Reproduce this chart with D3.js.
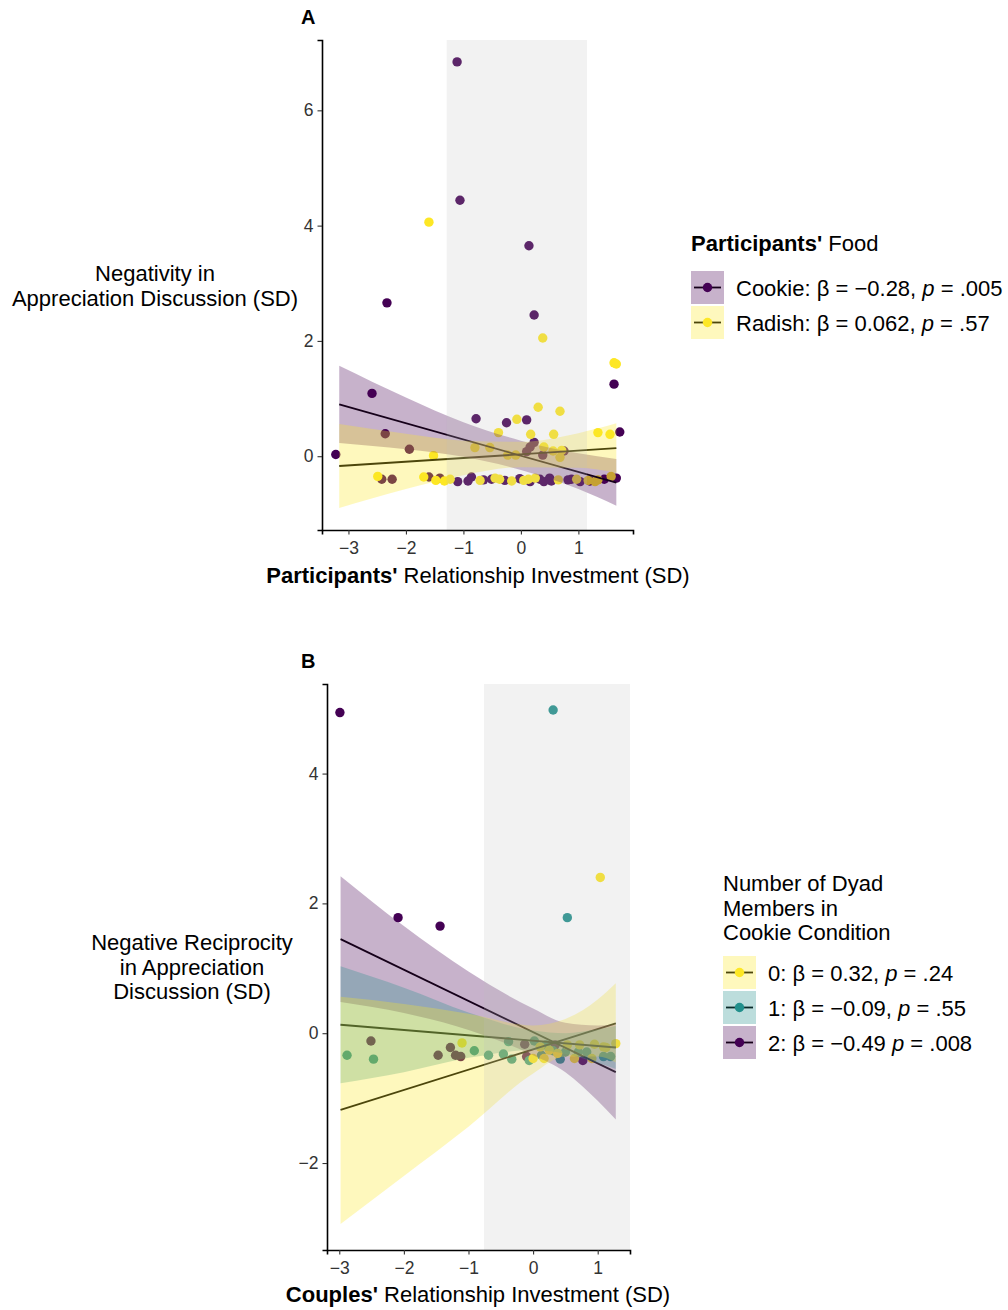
<!DOCTYPE html>
<html>
<head>
<meta charset="utf-8">
<script src="https://cdn.jsdelivr.net/npm/d3@7"></script>
<style>
  body { margin: 0; background: #fff; }
  text { font-family: "Liberation Sans", Arial, Helvetica, sans-serif; }
</style>
</head>
<body>
<svg id="chart" width="1008" height="1310"></svg>
<script>
// ---------- panel A data: participants' food ----------
const foodNames = ["Cookie", "Radish"];
const foodBeta = ["−0.28", "0.062"];
const foodP = [".005", ".57"];

const cookieX = [-1.11, -1.06, 0.14, -2.33, 0.23, 1.62, -2.59, -3.22, 1.72, -0.78, -0.25, 0.10,
  -2.36, -1.94, -2.42, -2.24, -1.60, -1.41, -0.86, -1.10, -0.92, 0.10, 0.16, 0.23, 0.38, 0.75,
  -0.65, -0.51, -0.28, -0.02, 0.16, 0.33, 0.40, 0.50, 0.53, 0.82, 0.88, 1.03, 1.20, 1.45, 1.66];
const cookieY = [6.84, 4.44, 3.65, 2.66, 2.45, 1.25, 1.09, 0.03, 0.42, 0.65, 0.58, 0.63,
  0.39, 0.12, -0.40, -0.40, -0.36, -0.38, -0.36, -0.44, -0.43, 0.08, 0.16, 0.24, 0.02, 0.09,
  -0.41, -0.40, -0.42, -0.39, -0.44, -0.40, -0.44, -0.38, -0.43, -0.41, -0.40, -0.44, -0.43, -0.40, -0.38];
const radishX = [-1.60, 0.38, 1.62, 1.66, 0.30, 0.68, -0.07, 1.34, 1.55, -0.39, 0.17, 0.57,
  -1.52, -0.80, -0.54, -0.23, -0.09, 0.40, 0.56, 0.68, 0.71, 1.57, -2.49, -1.69, -1.48, -1.33, -1.23,
  -0.71, -0.45, -0.37, -0.16, 0.05, 0.13, 0.25, 0.65, 0.97, 1.17, 1.29, 1.34];
const radishY = [4.06, 2.05, 1.62, 1.60, 0.85, 0.78, 0.64, 0.41, 0.38, 0.41, 0.38, 0.38,
  0.01, 0.15, 0.15, 0.02, 0.02, 0.16, 0.09, -0.02, 0.10, -0.35, -0.35, -0.36, -0.42, -0.43, -0.40,
  -0.42, -0.38, -0.40, -0.43, -0.42, -0.40, -0.38, -0.41, -0.40, -0.42, -0.44, -0.41];

// fitted lines (ends) and confidence bands
const fitAX = [-3.16, 1.66];
const cookieFit = [0.90, -0.46];
const radishFit = [-0.17, 0.14];
const bandAX = [-3.16, -2, -1, 0, 1, 1.66];
const cookieLo = [0.23, 0.12, -0.01, -0.24, -0.57, -0.86];
const cookieHi = [1.57, 1.02, 0.59, 0.27, 0.05, -0.05];
const radishLo = [-0.90, -0.57, -0.33, -0.19, -0.20, -0.29];
const radishHi = [0.56, 0.39, 0.27, 0.25, 0.40, 0.57];
const shadeA = [-1.29, 1.15];
const xTicksA = [-3, -2, -1, 0, 1];
const yTicksA = [0, 2, 4, 6];

// ---------- panel B data: dyad members in cookie condition ----------
const dyadNames = ["0", "1", "2"];
const dyadBeta = ["0.32,", "−0.09,", "−0.49"];
const dyadP = [".24", ".55", ".008"];

const zeroX = [1.04, -1.10, 0.00, 0.11, 0.17, 0.25, 0.38, 0.53, 0.64, 0.72, 0.91, 0.95, 1.09, 1.13, 1.28];
const zeroY = [2.40, -0.15, -0.39, -0.21, -0.39, -0.26, -0.31, -0.18, -0.39, -0.18, -0.39, -0.17, -0.21, -0.22, -0.16];
const oneX = [0.31, 0.53, -2.88, -2.47, -0.91, -0.69, -0.46, -0.38, -0.33, -0.06, 0.02, 0.13, 0.20, 0.31, 0.42, 0.50, 0.70, 0.83, 1.09, 1.20];
const oneY = [4.98, 1.78, -0.34, -0.40, -0.27, -0.34, -0.32, -0.13, -0.40, -0.42, -0.12, -0.34, -0.18, -0.27, -0.40, -0.29, -0.29, -0.29, -0.36, -0.36];
const twoX = [-2.99, -2.09, -1.44, -2.51, -1.47, -1.28, -1.20, -1.12, -0.13, -0.10, 0.34, 0.77];
const twoY = [4.94, 1.78, 1.65, -0.12, -0.34, -0.22, -0.34, -0.36, -0.17, -0.36, -0.18, -0.42];

const fitBX = [-2.98, 1.28];
const zeroFit = [-1.18, 0.15];
const oneFit = [0.13, -0.22];
const twoFit = [1.45, -0.60];
const bandBX = [-2.98, -2, -1, 0, 0.5, 1, 1.28];
const zeroLo = [-2.94, -2.20, -1.44, -0.62, -0.36, -0.36, -0.45];
const zeroHi = [0.56, 0.45, 0.30, 0.12, 0.22, 0.52, 0.77];
const oneLo = [-0.77, -0.60, -0.38, -0.26, -0.32, -0.46, -0.55];
const oneHi = [1.03, 0.70, 0.32, 0.04, 0.00, 0.06, 0.11];
const twoLo = [0.48, 0.31, 0.05, -0.34, -0.60, -1.04, -1.33];
const twoHi = [2.42, 1.65, 0.95, 0.38, 0.16, 0.12, 0.13];
const shadeB = [-0.76, 1.5];
const xTicksB = [-3, -2, -1, 0, 1];
const yTicksB = [-2, 0, 2, 4];

const PURPLE = "#440154", TEAL = "#21908C", YELLOW = "#FDE725";
const TITLE_SIZE = "22px", TICK_SIZE = "17.5px";

const svg = d3.select("#chart");

function drawPanel(p) {
  const x = d3.scaleLinear().domain(p.xDomain).range([p.left, p.right]);
  const y = d3.scaleLinear().domain(p.yDomain).range([p.bottom, p.top]);
  const g = svg.append("g");

  // points first, the bands are laid over them
  p.groups.forEach(gr => {
    g.append("g").selectAll("circle")
      .data(d3.range(gr.xs.length))
      .join("circle")
      .attr("cx", i => x(gr.xs[i]))
      .attr("cy", i => y(gr.ys[i]))
      .attr("r", 4.7)
      .style("fill", gr.color);
  });

  // fitted lines
  p.groups.forEach(gr => {
    g.append("path")
      .attr("d", d3.line()(gr.fitX.map((v, i) => [x(v), y(gr.fit[i])])))
      .style("fill", "none")
      .style("stroke", "#000")
      .style("stroke-width", 1.8);
  });

  // confidence bands
  const area = d3.area()
    .x(d => x(d[0])).y0(d => y(d[1])).y1(d => y(d[2]))
    .curve(d3.curveMonotoneX);
  p.groups.forEach(gr => {
    g.append("path")
      .attr("d", area(gr.bandX.map((v, i) => [v, gr.lo[i], gr.hi[i]])))
      .style("fill", gr.color)
      .style("opacity", 0.3);
  });

  // grey shaded region on top
  g.append("rect")
    .attr("x", x(p.shade[0]))
    .attr("y", p.top)
    .attr("width", x(p.shade[1]) - x(p.shade[0]))
    .attr("height", p.bottom - p.top)
    .style("fill", "#BEBEBE")
    .style("opacity", 0.2);

  // axes
  const fmt = d3.format("d");
  const ax = g.append("g").attr("transform", "translate(0," + p.bottom + ")")
    .call(d3.axisBottom(x).tickValues(p.xTicks).tickFormat(fmt).tickSizeOuter(0).tickSize(4.5).tickPadding(7));
  const ay = g.append("g").attr("transform", "translate(" + p.left + ",0)")
    .call(d3.axisLeft(y).tickValues(p.yTicks).tickFormat(fmt).tickSizeOuter(0).tickSize(4.5).tickPadding(4));
  [ax, ay].forEach(a => {
    a.select(".domain").style("stroke", "#000").style("stroke-width", 1.6);
    a.selectAll(".tick line").style("stroke", "#333").style("stroke-width", 1.1);
    a.selectAll(".tick text").style("font-size", TICK_SIZE).style("fill", "#333")
      .style("font-family", "'Liberation Sans', Arial, sans-serif");
  });

  // panel letter
  g.append("text").attr("x", p.letterX).attr("y", p.top - 16)
    .style("font-size", "20px").style("font-weight", "bold").text(p.letter);

  // x title with bold lead word
  const xt = g.append("text").attr("x", p.xTitleX).attr("y", p.xTitleY)
    .attr("text-anchor", "middle").style("font-size", TITLE_SIZE);
  xt.append("tspan").style("font-weight", "bold").text(p.xTitle[0]);
  xt.append("tspan").text(p.xTitle[1]);

  // y title, horizontal, centred lines
  p.yTitle.forEach((t, i) => {
    g.append("text").attr("x", p.yTitleX).attr("y", p.yTitleY + i * 24.5)
      .attr("text-anchor", "middle").style("font-size", TITLE_SIZE).text(t);
  });

  // legend
  const lg = g.append("g");
  p.legendTitle.forEach((t, i) => {
    const tt = lg.append("text").attr("x", p.legX).attr("y", p.legTitleY + i * 24.5)
      .style("font-size", TITLE_SIZE);
    t.forEach(part => tt.append("tspan").style("font-weight", part.b ? "bold" : "normal").text(part.t));
  });
  p.legendOrder.forEach((gi, k) => {
    const gr = p.groups[gi];
    const ky = p.legKeyY + k * p.legStep;
    lg.append("line").attr("x1", p.legX + 3).attr("x2", p.legX + 30)
      .attr("y1", ky + 16.5).attr("y2", ky + 16.5)
      .style("stroke", "#000").style("stroke-width", 1.8);
    lg.append("rect").attr("x", p.legX).attr("y", ky).attr("width", 33).attr("height", 33)
      .style("fill", gr.color).style("opacity", 0.3);
    lg.append("circle").attr("cx", p.legX + 16.5).attr("cy", ky + 16.5).attr("r", 4.7)
      .style("fill", gr.color);
    const lt = lg.append("text").attr("x", p.legX + 45).attr("y", ky + 24.5)
      .style("font-size", TITLE_SIZE);
    lt.append("tspan").text(gr.name + ": β = " + gr.beta + " ");
    lt.append("tspan").style("font-style", "italic").text("p");
    lt.append("tspan").text(" = " + gr.p);
  });
}

drawPanel({
  letter: "A", letterX: 301,
  left: 322, right: 633, top: 40, bottom: 530,
  xDomain: [-3.46, 1.95], yDomain: [-1.28, 7.22],
  xTicks: xTicksA, yTicks: yTicksA, shade: shadeA,
  groups: [
    { name: foodNames[0], beta: foodBeta[0] + ",", p: foodP[0], color: PURPLE, xs: cookieX, ys: cookieY,
      fitX: fitAX, fit: cookieFit, bandX: bandAX, lo: cookieLo, hi: cookieHi },
    { name: foodNames[1], beta: foodBeta[1] + ",", p: foodP[1], color: YELLOW, xs: radishX, ys: radishY,
      fitX: fitAX, fit: radishFit, bandX: bandAX, lo: radishLo, hi: radishHi }
  ],
  xTitle: ["Participants'", " Relationship Investment (SD)"], xTitleX: 478, xTitleY: 583,
  yTitle: ["Negativity in", "Appreciation Discussion (SD)"], yTitleX: 155, yTitleY: 281,
  legendTitle: [[{ t: "Participants'", b: true }, { t: " Food" }]],
  legX: 691, legTitleY: 251, legKeyY: 271, legStep: 35, legendOrder: [0, 1]
});

drawPanel({
  letter: "B", letterX: 301,
  left: 327, right: 630, top: 684, bottom: 1250,
  xDomain: [-3.19, 1.5], yDomain: [-3.34, 5.38],
  xTicks: xTicksB, yTicks: yTicksB, shade: shadeB,
  groups: [
    { name: dyadNames[2], beta: dyadBeta[2], p: dyadP[2], color: PURPLE, xs: twoX, ys: twoY,
      fitX: fitBX, fit: twoFit, bandX: bandBX, lo: twoLo, hi: twoHi },
    { name: dyadNames[1], beta: dyadBeta[1], p: dyadP[1], color: TEAL, xs: oneX, ys: oneY,
      fitX: fitBX, fit: oneFit, bandX: bandBX, lo: oneLo, hi: oneHi },
    { name: dyadNames[0], beta: dyadBeta[0], p: dyadP[0], color: YELLOW, xs: zeroX, ys: zeroY,
      fitX: fitBX, fit: zeroFit, bandX: bandBX, lo: zeroLo, hi: zeroHi }
  ],
  xTitle: ["Couples'", " Relationship Investment (SD)"], xTitleX: 478, xTitleY: 1302,
  yTitle: ["Negative Reciprocity", "in Appreciation", "Discussion (SD)"], yTitleX: 192, yTitleY: 950,
  legendTitle: [[{ t: "Number of Dyad" }], [{ t: "Members in" }], [{ t: "Cookie Condition" }]],
  legX: 723, legTitleY: 891, legKeyY: 956, legStep: 35, legendOrder: [2, 1, 0]
});
</script>
</body>
</html>
